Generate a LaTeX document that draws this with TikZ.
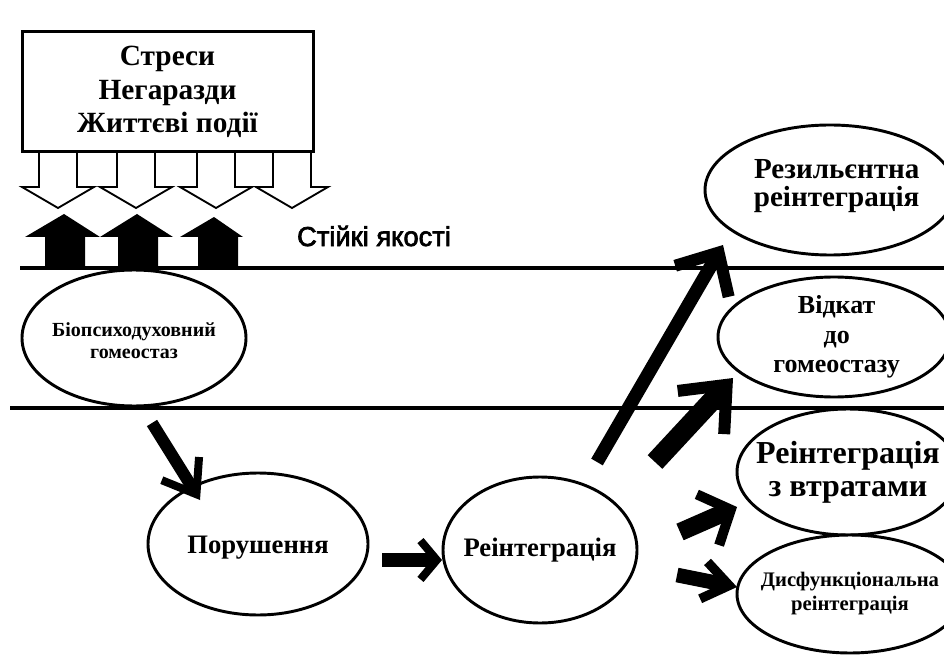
\documentclass[tikz,border=0pt]{standalone}
\usepackage{fontspec}
\setmainfont{Liberation Serif}
\newfontfamily\sansbold{Liberation Sans}[AutoFakeBold=2.5]
\usetikzlibrary{shapes.geometric,calc}
% #1 start, #2 tip (named coordinates), #3 shaft width, #4 arm length, #5 half angle, #6 arm width
\newcommand\fatarrow[6]{%
  \draw[line width=#3] (#1) -- ($(#2)!{#3/(2*tan(#5))}!(#1)$);
  \path ($(#2)!{#6/(2*sin(#5))}!(#1)$) coordinate (fav);
  \draw[line width=#6, line join=miter, miter limit=20] ($(fav)!#4!#5:(#1)$) -- (fav) -- ($(fav)!#4!-#5:(#1)$);
}
\begin{document}
\begin{tikzpicture}[x=0.75pt,y=-0.75pt,font=\bfseries,
  ell/.style={draw, ellipse, fill=white, line width=2.2pt, inner sep=0pt, outer sep=0pt},
  txt/.style={align=center, inner sep=0pt},
  hollow/.style={draw, fill=white, line width=1.4pt, line join=miter},
  house/.style={fill=black},
  hline/.style={line width=2.3pt}
]
\useasboundingbox (0,0) rectangle (944,655);

% horizontal lines
\draw[hline] (20,268) -- (944,268);
\draw[hline] (10,408) -- (944,408);

% hollow down arrows
\foreach \c in {58,136,216,292}{
  \draw[hollow] (\c-19,150) -- (\c-19,187) -- (\c-36,187) -- (\c,208) -- (\c+36,187) -- (\c+19,187) -- (\c+19,150);
}

% stress box
\node[draw, fill=white, line width=2.25pt, minimum width=218.25pt, minimum height=90pt, inner sep=0pt, align=center,
  font=\bfseries\fontsize{22}{25}\selectfont] (box) at (167.5,92) {Стреси\\Негаразди\\Життєві події};

% black house arrows
\fill[house] (45,268) -- (45,237) -- (25,237) -- (64,214) -- (100,237) -- (85,237) -- (85,268) -- cycle;
\fill[house] (118,268) -- (118,237) -- (100,237) -- (137,214) -- (173,237) -- (158,237) -- (158,268) -- cycle;
\fill[house] (198,268) -- (198,237) -- (180,237) -- (214,217) -- (243,237) -- (238,237) -- (238,268) -- cycle;

\node[font=\sansbold\bfseries\fontsize{20.5}{24}\selectfont] (st) at (374,236) {Стійкі якості};

% ellipses (text as centred labels so the ellipse keeps its size)
\node[ell, minimum width=168pt, minimum height=102pt,
  label={[txt, font=\bfseries\fontsize{15}{16.5}\selectfont, yshift=-2pt]center:{Біопсиходуховний\\гомеостаз}}] (bio) at (134,338) {};
\node[ell, minimum width=165pt, minimum height=106.5pt,
  label={[txt, font=\bfseries\fontsize{20}{24}\selectfont, yshift=-3pt]center:{Порушення}}] (por) at (258,544) {};
\node[ell, minimum width=145.5pt, minimum height=109.5pt,
  label={[txt, font=\bfseries\fontsize{20}{24}\selectfont]center:{Реінтеграція}}] (rei) at (540,550) {};
\node[ell, minimum width=187.5pt, minimum height=97.5pt,
  label={[txt, font=\bfseries\fontsize{21.8}{21}\selectfont, xshift=5pt, yshift=3pt]center:{Резильєнтна\\реінтеграція}}] (res) at (830,190) {};
\node[ell, minimum width=174pt, minimum height=90pt,
  label={[txt, font=\bfseries\fontsize{19.5}{22}\selectfont, xshift=2pt]center:{Відкат\\до\\гомеостазу}}] (vid) at (834,337) {};
\node[ell, minimum width=166.5pt, minimum height=94.5pt,
  label={[txt, font=\bfseries\fontsize{24}{25}\selectfont]center:{Реінтеграція\\з втратами}}] (vtr) at (848,472) {};
\node[ell, minimum width=169.5pt, minimum height=88.5pt,
  label={[txt, font=\bfseries\fontsize{15.5}{18}\selectfont]center:{Дисфункціональна\\реінтеграція}}] (dys) at (850,594) {};

% arrow end points
\coordinate (a1s) at ($(bio.south)+(18,17)$);
\coordinate (a1e) at ($(por.north)+(-58,27)$);
\coordinate (a2s) at ($(por.east)+(14,16)$);
\coordinate (a2e) at ($(rei.west)+(-1,10)$);
\coordinate (a3s) at ($(rei.north)+(57,-15)$);
\coordinate (a3e) at ($(res.south)+(-107,-10)$);
\coordinate (a4s) at ($(rei.north)+(115,-15)$);
\coordinate (a4e) at ($(vid.south)+(-101,-19)$);
\coordinate (a5s) at ($(rei.east)+(43,-18)$);
\coordinate (a5e) at ($(vtr.west)+(0,35)$);
\coordinate (a6s) at ($(rei.east)+(40,25)$);
\coordinate (a6e) at ($(dys.west)+(0,-7)$);

% arrows
\fatarrow{a1s}{a1e}{9pt}{28pt}{36}{6pt}
\fatarrow{a2s}{a2e}{11pt}{19pt}{50}{6pt}
\fatarrow{a3s}{a3e}{10pt}{34pt}{43}{9pt}
\fatarrow{a4s}{a4e}{15pt}{37pt}{40}{9pt}
\fatarrow{a5s}{a5e}{13.5pt}{28pt}{48}{7.5pt}
\fatarrow{a6s}{a6e}{11pt}{24pt}{36}{7pt}
\end{tikzpicture}
\end{document}
